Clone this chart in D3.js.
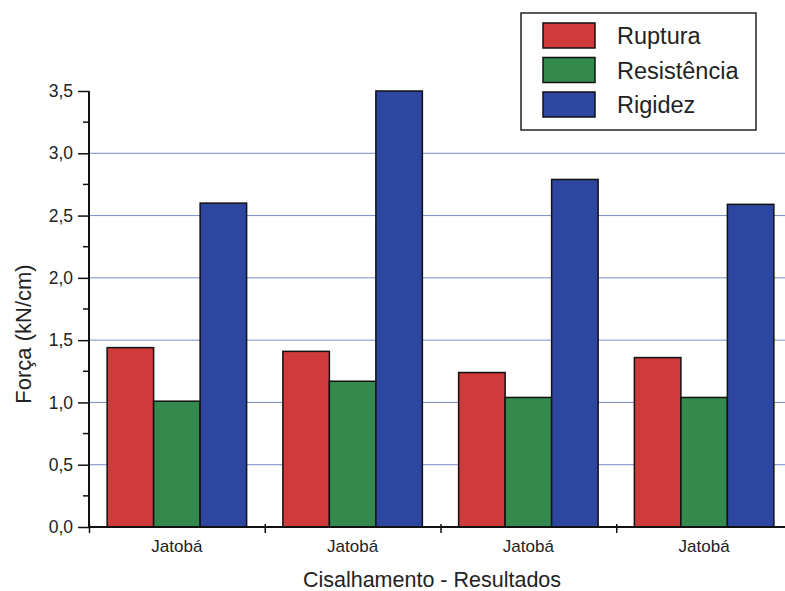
<!DOCTYPE html>
<html>
<head>
<meta charset="utf-8">
<script src="https://cdn.jsdelivr.net/npm/d3@7"></script>
<style>
  body { margin: 0; background: #fff; }
  text { font-family: "Liberation Sans", Arial, sans-serif; fill: #222; }
</style>
</head>
<body>
<div id="chart"></div>
<script>
var categories = ["Jatobá", "Jatobá", "Jatobá", "Jatobá"];
var seriesNames = ["Ruptura", "Resistência", "Rigidez"];
var ruptura = [1.44, 1.41, 1.24, 1.36];
var resistencia = [1.01, 1.17, 1.04, 1.04];
var rigidez = [2.60, 3.50, 2.79, 2.59];
var yTicks = [0, 0.5, 1.0, 1.5, 2.0, 2.5, 3.0, 3.5];
var yMinorTicks = [0.25, 0.75, 1.25, 1.75, 2.25, 2.75, 3.25];
var colors = ["#d13a3a", "#338a4c", "#2d46a0"];

function init () {
    var w = 785;
    var h = 591;
    var left = 89, right = 792, top = 91, bottom = 527;

    var values = [ruptura, resistencia, rigidez];

    var svg = d3.select("#chart")
                .append("svg")
                .attr("width", w)
                .attr("height", h);

    var xScale = d3.scaleBand()
                .domain(d3.range(categories.length))
                .range([left, right]);

    var xSub = d3.scaleBand()
                .domain(seriesNames)
                .range([0, xScale.bandwidth()])
                .paddingOuter(0.39);

    var yScale = d3.scaleLinear()
                .domain([0, 3.5])
                .range([bottom, top]);

    // grid lines
    svg.append("g")
        .selectAll("line")
        .data(yTicks.slice(1, yTicks.length - 1))
        .enter()
        .append("line")
        .attr("x1", left)
        .attr("x2", w)
        .attr("y1", function(d) { return yScale(d); })
        .attr("y2", function(d) { return yScale(d); })
        .attr("stroke", "#7c8cc4")
        .attr("stroke-width", 1);

    // bars
    var groups = svg.append("g")
        .selectAll("g")
        .data(categories)
        .enter()
        .append("g")
        .attr("transform", function(d, i) { return "translate(" + xScale(i) + ",0)"; });

    groups.selectAll("rect")
        .data(function(d, i) {
            return seriesNames.map(function(s, j) {
                return { name: s, value: values[j][i], k: j };
            });
        })
        .enter()
        .append("rect")
        .attr("x", function(d) { return xSub(d.name); })
        .attr("y", function(d) { return yScale(d.value); })
        .attr("width", xSub.bandwidth())
        .attr("height", function(d) { return yScale(0) - yScale(d.value); })
        .attr("fill", function(d) { return colors[d.k]; })
        .attr("stroke", "#111")
        .attr("stroke-width", 1.5);

    // y axis
    var yAxis = d3.axisLeft(yScale)
                .tickValues(yTicks)
                .tickSize(11)
                .tickPadding(5)
                .tickFormat(function(d) { return d3.format(".1f")(d).replace(".", ","); });

    var gy = svg.append("g")
        .attr("transform", "translate(" + left + ",0)")
        .call(yAxis);
    gy.select(".domain").attr("d", "M0," + (bottom + 0.5) + "V" + top).attr("stroke", "#111").attr("stroke-width", 2);
    gy.selectAll(".tick line").attr("stroke", "#111").attr("stroke-width", 1.5);
    gy.selectAll("text").style("font-size", "17.5px").attr("fill", "#222");

    gy.selectAll(".minor")
        .data(yMinorTicks)
        .enter()
        .append("line")
        .attr("class", "minor")
        .attr("x1", -6)
        .attr("x2", 0)
        .attr("y1", function(d) { return yScale(d); })
        .attr("y2", function(d) { return yScale(d); })
        .attr("stroke", "#111")
        .attr("stroke-width", 1.5);

    // x axis: tick marks at group boundaries
    var xEdge = d3.scaleLinear().domain([0, categories.length]).range([left, right]);
    var xAxisTicks = d3.axisBottom(xEdge)
                .tickValues(d3.range(categories.length + 1))
                .tickSize(6)
                .tickFormat("");
    var gx = svg.append("g")
        .attr("transform", "translate(0," + bottom + ")")
        .call(xAxisTicks);
    gx.select(".domain").attr("d", "M" + left + ",0H" + w).attr("stroke", "#111").attr("stroke-width", 2);
    gx.selectAll(".tick line").attr("y1", -3).attr("stroke", "#111").attr("stroke-width", 1.5);

    var xAxisLabels = d3.axisBottom(xScale)
                .tickSize(0)
                .tickPadding(13)
                .tickFormat(function(i) { return categories[i]; });
    var gxl = svg.append("g")
        .attr("transform", "translate(0," + bottom + ")")
        .call(xAxisLabels);
    gxl.select(".domain").remove();
    gxl.selectAll("text").style("font-size", "17px").attr("fill", "#222");

    // axis titles
    svg.append("text")
        .attr("x", 432)
        .attr("y", 587)
        .attr("text-anchor", "middle")
        .style("font-size", "21.5px")
        .text("Cisalhamento - Resultados");

    svg.append("text")
        .attr("transform", "translate(31,334) rotate(-90)")
        .attr("text-anchor", "middle")
        .style("font-size", "22px")
        .text("Força (kN/cm)");

    // legend
    var legend = svg.append("g");
    legend.append("rect")
        .attr("x", 521)
        .attr("y", 13)
        .attr("width", 235)
        .attr("height", 117)
        .attr("fill", "#fff")
        .attr("stroke", "#222")
        .attr("stroke-width", 1.5);

    var items = legend.selectAll("g.item")
        .data(seriesNames)
        .enter()
        .append("g")
        .attr("class", "item")
        .attr("transform", function(d, i) { return "translate(0," + (i * 34.5) + ")"; });

    items.append("rect")
        .attr("x", 543)
        .attr("y", 23)
        .attr("width", 52)
        .attr("height", 25)
        .attr("fill", function(d, i) { return colors[i]; })
        .attr("stroke", "#111")
        .attr("stroke-width", 1.5);

    items.append("text")
        .attr("x", 617)
        .attr("y", 44)
        .style("font-size", "23.5px")
        .text(function(d) { return d; });
}
window.onload = init;
</script>
</body>
</html>
